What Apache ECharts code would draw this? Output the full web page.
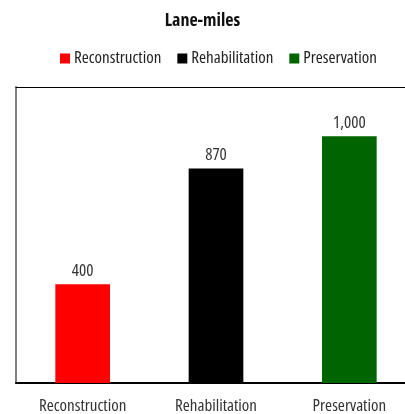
<!DOCTYPE html>
<html>
<head>
<meta charset="utf-8">
<script src="https://cdn.jsdelivr.net/npm/echarts@6/dist/echarts.min.js"></script>
<style>
  html, body { margin: 0; padding: 0; background: #fff; overflow: hidden; }
  #chart { width: 405px; height: 414px; }
</style>
</head>
<body>
<div id="chart"></div>
<script>
const categories = ['Reconstruction', 'Rehabilitation', 'Preservation'];
const laneMiles = [400, 870, 1000];
const barColors = ['#ff0000', '#000000', '#006400'];

// narrow font: Open Sans squeezed with the font-stretch keyword
const font = '"Open Sans", "DejaVu Sans Condensed", sans-serif';
const narrow = 'condensed';

const chart = echarts.init(document.getElementById('chart'));

// one series per category so the legend gets three entries
const series = categories.map((name, i) => ({
  name: name,
  type: 'bar',
  stack: 'all',
  barWidth: '41%',
  itemStyle: { color: barColors[i] },
  label: {
    show: true,
    position: 'top',
    distance: 5,
    color: '#333',
    fontFamily: font,
    fontStyle: narrow,
    fontSize: 17,
    formatter: p => p.value.toLocaleString('en-US')
  },
  data: categories.map((c, j) => (j === i ? laneMiles[i] : '-'))
}));

chart.setOption({
  animation: false,
  title: {
    text: 'Lane-miles',
    left: 'center',
    top: 7,
    textStyle: { fontFamily: font, fontStyle: narrow, fontSize: 18, fontWeight: 'bold', color: '#111' }
  },
  legend: {
    top: 45,
    left: 55,
    icon: 'rect',
    itemWidth: 10,
    itemHeight: 10,
    itemGap: 16,
    textStyle: { fontFamily: font, fontStyle: narrow, fontSize: 17, color: '#222', padding: [0, 0, 0, -1] },
    data: categories
  },
  grid: { left: 16, right: -11, top: 87, bottom: 31, containLabel: false, outerBoundsMode: 'none' },
  xAxis: [
    {
      type: 'category',
      data: categories,
      axisLine: { lineStyle: { color: '#000', width: 2 } },
      axisTick: { show: false },
      axisLabel: { fontFamily: font, fontStyle: narrow, fontSize: 17, color: '#333', margin: 15 }
    },
    {
      type: 'category',
      position: 'top',
      data: categories,
      axisLine: { lineStyle: { color: '#000', width: 1 } },
      axisTick: { show: false },
      axisLabel: { show: false }
    }
  ],
  yAxis: {
    type: 'value',
    min: 0,
    max: 1200,
    axisLine: { show: true, lineStyle: { color: '#808080', width: 2 } },
    axisTick: { show: false },
    axisLabel: { show: false },
    splitLine: { show: false }
  },
  series: series
});
</script>
</body>
</html>
